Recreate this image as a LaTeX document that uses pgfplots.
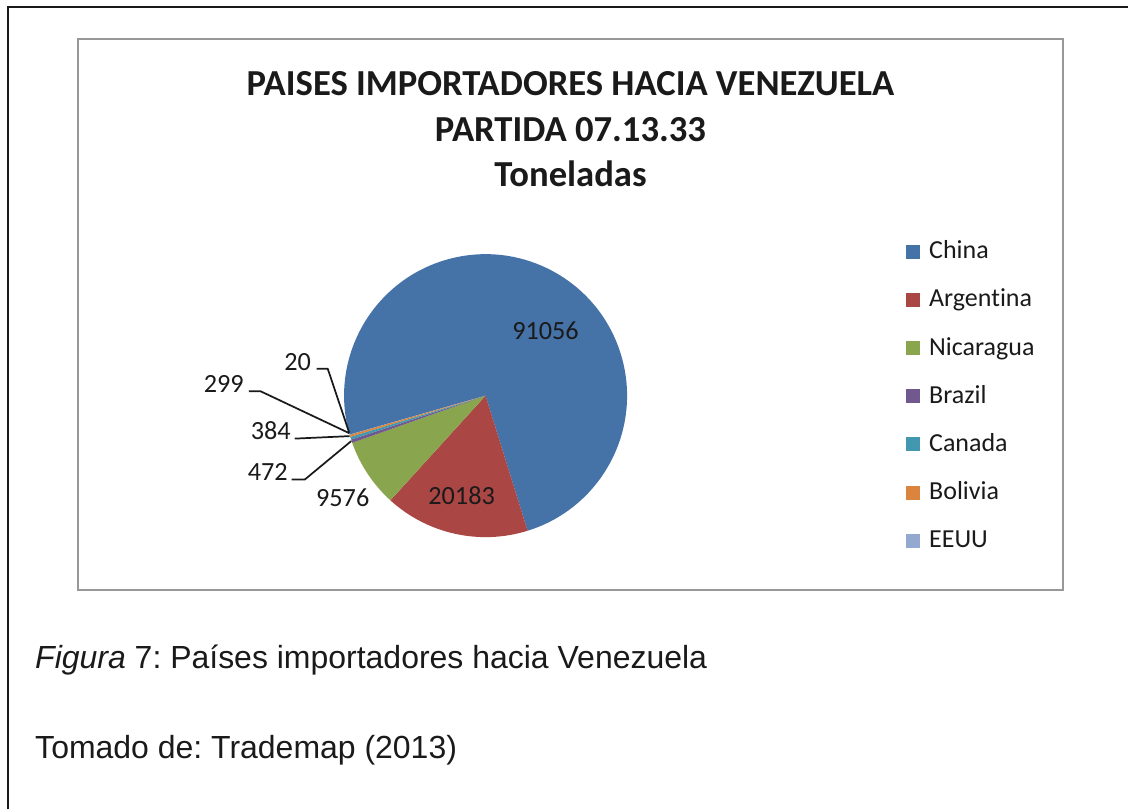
\documentclass[border=0pt]{standalone}
\usepackage{pgfplots}
\pgfplotsset{compat=1.18}
\usepackage{fontspec}
\setmainfont{Carlito}[Ligatures=NoCommon]
\newfontfamily\arialf{Liberation Sans}[Ligatures=NoCommon]
\frenchspacing
\definecolor{cChina}{HTML}{4572A7}
\definecolor{cArg}{HTML}{AA4643}
\definecolor{cNic}{HTML}{89A54E}
\definecolor{cBra}{HTML}{71588F}
\definecolor{cCan}{HTML}{4198AF}
\definecolor{cBol}{HTML}{DB843D}
\definecolor{cUS}{HTML}{93A9CF}
\definecolor{boxgray}{RGB}{152,152,152}
\definecolor{txt}{RGB}{26,26,26}
\pgfplotsset{sq/.style={legend image code/.code={%
  \fill[##1, draw=none] (0pt,0pt) rectangle (10.5pt,10.5pt);
  \path[draw=none, fill=none] (0pt,0pt) -- (17.25pt,0pt);}}}
% data (toneladas)
\def\vChina{91056}
\def\vArg{20183}
\def\vNic{9576}
\def\vBra{472}
\def\vCan{384}
\def\vBol{299}
\def\vUS{20}
\begin{document}
\begin{tikzpicture}
\edef\tot{\fpeval{\vChina+\vArg+\vNic+\vBra+\vCan+\vBol+\vUS}}
\edef\aA{196.0}
\edef\aB{\fpeval{\aA-\vChina/\tot*360}}
\edef\aC{\fpeval{\aB-\vArg/\tot*360}}
\edef\aD{\fpeval{\aC-\vNic/\tot*360}}
\edef\aE{\fpeval{\aD-\vBra/\tot*360}}
\edef\aF{\fpeval{\aE-\vCan/\tot*360}}
\edef\aG{\fpeval{\aF-\vBol/\tot*360}}
\edef\aH{\fpeval{\aG-\vUS/\tot*360}}
\def\R{106.2pt}
\begin{axis}[
  width=846.75pt, height=607.5pt, scale only axis,
  xmin=0, xmax=1129, ymin=0, ymax=810, y dir=reverse,
  hide axis, clip=false,
  legend style={at={(axis cs:907,240.3)}, anchor=north west, draw=none, fill=none,
    inner sep=0pt, outer sep=0pt, text=txt,
    font=\fontsize{19.5}{23}\selectfont, row sep=18.15pt,
    nodes={inner sep=0pt, outer sep=0pt, text height=14pt, text depth=4pt, anchor=base west}},
]
\path (axis cs:0,0) rectangle (axis cs:1129,810);
% outer frame
\draw[line width=1.5pt, txt] (axis cs:8,810) -- (axis cs:8,7) -- (axis cs:1129,7);
% chart area
\draw[line width=1.5pt, boxgray] (axis cs:78,39) rectangle (axis cs:1064,591);
% pie
\fill[cChina] (axis cs:486,396) -- ++(\aA:\R) arc[start angle=\aA, end angle=\aB, radius=\R] -- cycle;
\fill[cArg] (axis cs:486,396) -- ++(\aB:\R) arc[start angle=\aB, end angle=\aC, radius=\R] -- cycle;
\fill[cNic] (axis cs:486,396) -- ++(\aC:\R) arc[start angle=\aC, end angle=\aD, radius=\R] -- cycle;
\fill[cBra] (axis cs:486,396) -- ++(\aD:\R) arc[start angle=\aD, end angle=\aE, radius=\R] -- cycle;
\fill[cCan] (axis cs:486,396) -- ++(\aE:\R) arc[start angle=\aE, end angle=\aF, radius=\R] -- cycle;
\fill[cBol] (axis cs:486,396) -- ++(\aF:\R) arc[start angle=\aF, end angle=\aG, radius=\R] -- cycle;
\fill[cUS] (axis cs:486,396) -- ++(\aG:\R) arc[start angle=\aG, end angle=\aH, radius=\R] -- cycle;
% data labels
\begin{scope}[every node/.style={font=\fontsize{19.7}{23}\selectfont, text=txt, inner sep=0pt}]
\node at (axis cs:546,331) {\vChina};
\node at (axis cs:462,496) {\vArg};
\node at (axis cs:343,498) {\vNic};
\node at (axis cs:268,472) {\vBra};
\node at (axis cs:271,431) {\vCan};
\node at (axis cs:224,384) {\vBol};
\node at (axis cs:298,362) {\vUS};
\end{scope}
% leader lines
\begin{scope}[line width=1.3pt, txt]
\draw (axis cs:317,369) -- (axis cs:328,369) -- (axis cs:349.5,433);
\draw (axis cs:249,391.7) -- (axis cs:261,391.7) -- (axis cs:349.5,433.5);
\draw (axis cs:295,439) -- (axis cs:350,436.5);
\draw (axis cs:292,480) -- (axis cs:305,480) -- (axis cs:351.5,441.5);
\end{scope}
% title
\begin{scope}[every node/.style={font=\bfseries\fontsize{27.5}{33}\selectfont, text=txt, inner sep=0pt, anchor=base}]
\node at (axis cs:571,96) {PAISES IMPORTADORES HACIA VENEZUELA};
\node at (axis cs:571,141.5) {PARTIDA 07.13.33};
\node at (axis cs:571,186.5) {Toneladas};
\end{scope}
% caption
\begin{scope}[every node/.style={font=\arialf\fontsize{24}{28}\selectfont, text=txt, inner sep=0pt, anchor=base west}]
\node at (axis cs:35,669.5) {\textit{Figura} 7: Países importadores hacia Venezuela};
\node at (axis cs:35,759) {Tomado de: Trademap (2013)};
\end{scope}
% legend
\addlegendimage{sq, fill=cChina}\addlegendentry{China}
\addlegendimage{sq, fill=cArg}\addlegendentry{Argentina}
\addlegendimage{sq, fill=cNic}\addlegendentry{Nicaragua}
\addlegendimage{sq, fill=cBra}\addlegendentry{Brazil}
\addlegendimage{sq, fill=cCan}\addlegendentry{Canada}
\addlegendimage{sq, fill=cBol}\addlegendentry{Bolivia}
\addlegendimage{sq, fill=cUS}\addlegendentry{EEUU}
\end{axis}
\end{tikzpicture}
\end{document}
